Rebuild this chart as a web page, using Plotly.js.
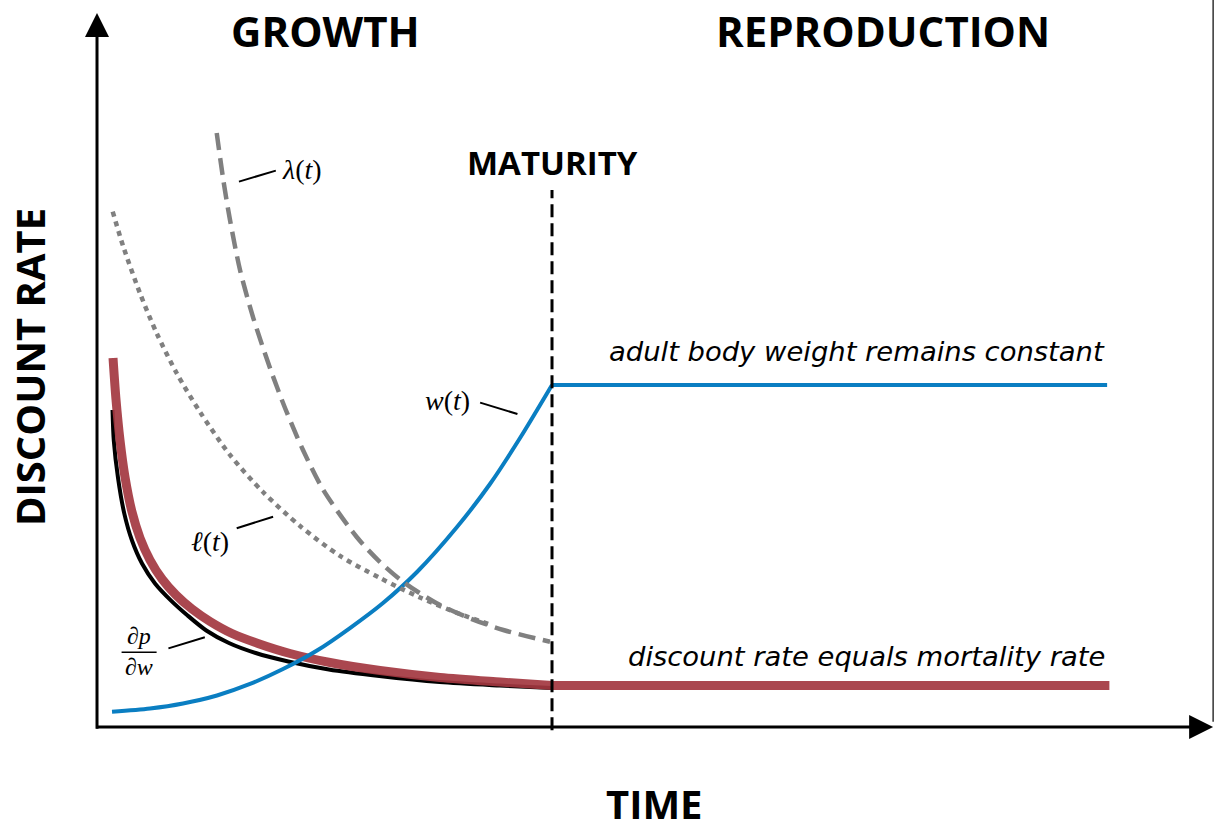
<!DOCTYPE html>
<html>
<head>
<meta charset="utf-8">
<script src="https://cdn.plot.ly/plotly-3.0.1.min.js"></script>
<style>html,body{margin:0;padding:0;background:#fff;}#chart{width:1215px;height:830px;}</style>
</head>
<body>
<div id="chart"></div>
<script>
// ---- data (time units; maturity at t = 10) ----
const maturityT = 10;

// body weight w(t) during growth
const wT = [0.33, 1.165, 1.89, 2.637, 3.363, 4.088, 4.835, 5.56, 6.286, 7.033, 7.912, 8.637, 9.297, 10.0];
const wV = [2.35, 2.85, 3.62, 4.85, 6.62, 8.92, 11.77, 15.23, 19.08, 23.85, 30.77, 37.38, 44.46, 52.62];
// adult body weight (constant)
const adultT = [10.0, 22.2];
const adultW = [52.62, 52.62];

// discount rate during growth (thick red)
const discT = [0.352, 0.418, 0.505, 0.615, 0.769, 0.945, 1.165, 1.429, 1.736, 2.088, 2.484, 2.967, 3.538, 4.242, 5.121, 6.22, 7.538, 8.857, 10.0];
const discV = [56.77, 50.31, 44.15, 38.46, 33.08, 29.08, 25.69, 22.77, 20.31, 18.15, 16.23, 14.38, 12.85, 11.31, 9.92, 8.69, 7.62, 6.92, 6.38];
// adult discount rate = mortality rate
const mortT = [10.0, 22.25];
const mortV = [6.38, 6.38];

// dp/dw (black)
const dpT = [0.341, 0.369, 0.462, 0.6, 0.769, 0.989, 1.275, 1.622, 1.991, 2.402, 2.899, 3.488, 4.204, 5.095, 6.204, 7.53, 8.853, 10.0];
const dpV = [48.77, 44.06, 38.31, 32.83, 28.69, 25.15, 22.08, 19.48, 17.15, 14.85, 12.92, 11.38, 10.08, 8.85, 7.85, 6.92, 6.38, 6.0];

// l(t) (dotted gray)
const ellT = [0.345, 0.578, 0.945, 1.312, 1.752, 2.264, 2.923, 3.648, 4.462, 5.341, 6.22, 7.099, 7.978, 8.637];
const ellV = [79.28, 73.89, 66.72, 60.57, 54.42, 48.46, 41.85, 36.15, 30.92, 26.31, 22.92, 19.92, 17.38, 15.77];

// lambda(t) (dashed gray)
const lamT = [2.631, 2.776, 2.923, 3.143, 3.435, 3.802, 4.132, 4.527, 4.974, 5.708, 6.22, 6.732, 7.466, 8.198, 8.93, 9.956];
const lamV = [91.38, 84.15, 78.0, 70.31, 62.92, 55.23, 49.08, 42.62, 36.46, 29.23, 25.38, 22.31, 19.03, 16.72, 14.92, 13.12];

// ---- styles ----
const BLUE = '#0A7EC2';
const RED = 'rgba(163,55,64,0.92)';
const GRAY = '#808080';
const SM = 0.8;

const traces = [
  {x: dpT, y: dpV, mode: 'lines', line: {color: '#000', width: 4, shape: 'spline', smoothing: SM}},
  {x: discT, y: discV, mode: 'lines', line: {color: RED, width: 9, shape: 'spline', smoothing: SM}},
  {x: mortT, y: mortV, mode: 'lines', line: {color: RED, width: 9}},
  {x: wT, y: wV, mode: 'lines', line: {color: BLUE, width: 4, shape: 'spline', smoothing: SM}},
  {x: adultT, y: adultW, mode: 'lines', line: {color: BLUE, width: 4}},
  {x: ellT, y: ellV, mode: 'lines', line: {color: GRAY, width: 4.5, dash: '5px,5px', shape: 'spline', smoothing: SM}},
  {x: lamT, y: lamV, mode: 'lines', line: {color: GRAY, width: 4.5, dash: '17px,8px', shape: 'spline', smoothing: SM}}
];

const bold = {family: 'Open Sans', size: 42, color: '#000', weight: 700};
const ital = {family: 'DejaVu Sans', size: 27.4, color: '#000', style: 'italic'};
const math = {family: 'Liberation Serif', size: 28, color: '#000'};

function txt(x, y, text, font, extra) {
  return Object.assign({x: x, y: y, xref: 'x', yref: 'y', text: text, showarrow: false, font: font,
    xanchor: 'center', yanchor: 'middle'}, extra || {});
}

const annotations = [
  txt(5.03, 107.1, 'GROWTH', bold),
  txt(17.27, 107.1, 'REPRODUCTION', bold),
  txt(10, 86.9, 'MATURITY', Object.assign({}, bold, {size: 33})),
  txt(-1.47, 55.4, 'DISCOUNT RATE', Object.assign({}, bold, {size: 40}), {textangle: -90}),
  txt(12.26, -11.8, 'TIME', Object.assign({}, bold, {size: 40})),
  txt(22.2, 57.7, 'adult body weight remains constant', ital, {xanchor: 'right'}),
  txt(22.2, 10.9, 'discount rate equals mortality rate', ital, {xanchor: 'right'}),
  txt(4.51, 85.7, '<i>λ</i>(<i>t</i>)', math),
  txt(7.71, 50.3, '<i>w</i>(<i>t</i>)', math),
  txt(2.48, 28.5, '<i>ℓ</i>(<i>t</i>)', math),
  txt(0.92, 14.0, '∂<i>p</i>', Object.assign({}, math, {size: 24})),
  txt(0.92, 9.2, '∂<i>w</i>', Object.assign({}, math, {size: 24})),
  // axis arrows
  {x: 24.53, y: 0, ax: -0.05, ay: 0, xref: 'x', yref: 'y', axref: 'x', ayref: 'y', text: '',
   showarrow: true, arrowhead: 2, arrowwidth: 3, arrowsize: 1.6, arrowcolor: '#000'},
  {x: 0, y: 109.85, ax: 0, ay: -0.5, xref: 'x', yref: 'y', axref: 'x', ayref: 'y', text: '',
   showarrow: true, arrowhead: 2, arrowwidth: 3, arrowsize: 1.6, arrowcolor: '#000'}
];

function seg(x0, y0, x1, y1, w, extra) {
  return Object.assign({type: 'line', xref: 'x', yref: 'y', x0: x0, y0: y0, x1: x1, y1: y1,
    line: {color: '#000', width: w}, layer: 'above'}, extra || {});
}

const shapes = [
  // maturity line
  seg(maturityT, -0.5, maturityT, 82.6, 3, {line: {color: '#000', width: 3, dash: '13px,6px'}}),
  // leader lines
  seg(3.12, 83.9, 3.93, 85.6, 2),
  seg(8.42, 49.9, 9.24, 48.15, 2),
  seg(3.07, 30.57, 3.87, 32.35, 2),
  seg(1.57, 12.1, 2.37, 13.8, 2),
  // fraction bar
  seg(0.54, 11.5, 1.31, 11.5, 1.3),
  // right frame edge
  seg(24.53, 0.8, 24.53, 111.9, 1.5, {line: {color: '#333', width: 1.5}})
];

const layout = {
  width: 1215, height: 830,
  margin: {l: 0, r: 0, t: 0, b: 0},
  paper_bgcolor: '#fff', plot_bgcolor: '#fff',
  showlegend: false,
  xaxis: {range: [-2.132, 24.571], visible: false, fixedrange: true},
  yaxis: {range: [-15.846, 111.846], visible: false, fixedrange: true},
  annotations: annotations,
  shapes: shapes
};

Plotly.newPlot('chart', traces, layout, {staticPlot: true, displayModeBar: false});
</script>
</body>
</html>
